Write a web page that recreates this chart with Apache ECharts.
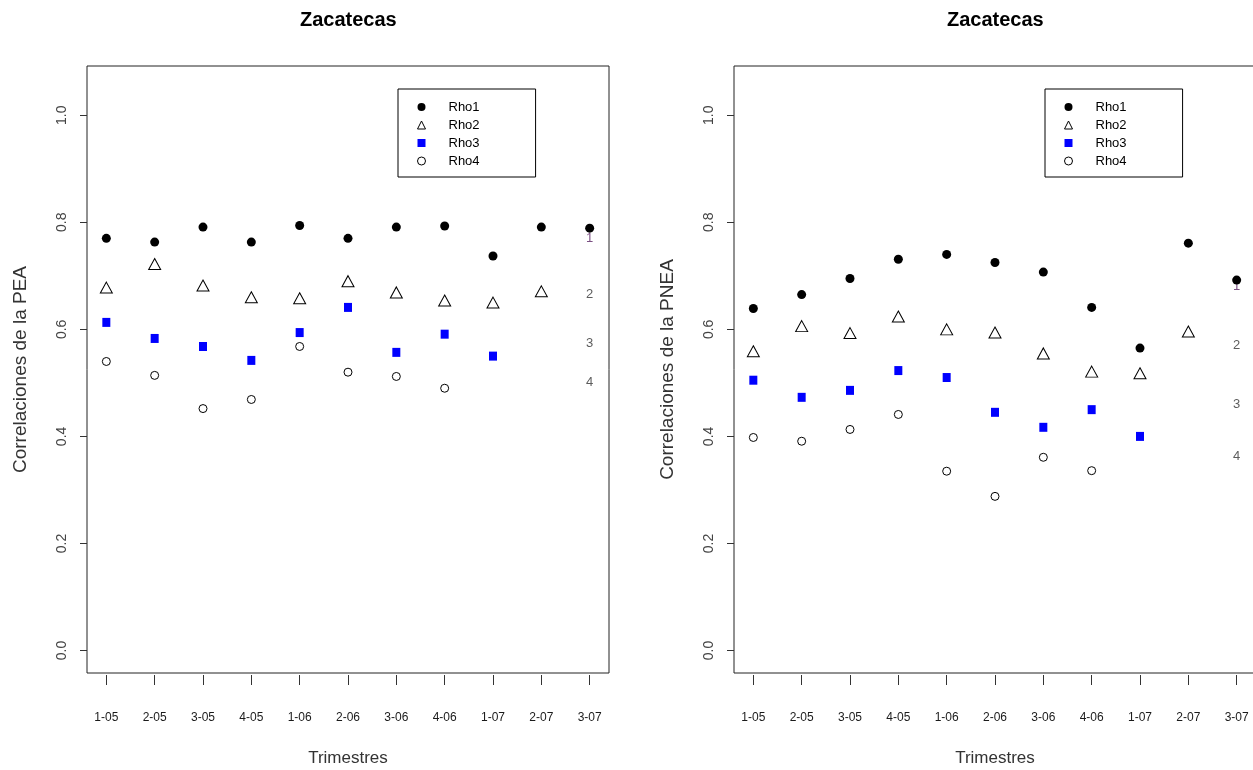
<!DOCTYPE html>
<html>
<head>
<meta charset="utf-8">
<title>Zacatecas</title>
<script src="https://cdn.jsdelivr.net/npm/echarts@6/dist/echarts.min.js"></script>
<style>
  html, body { margin: 0; padding: 0; background: #ffffff; }
  #chart { width: 1253px; height: 770px; }
</style>
</head>
<body>
<div id="chart"></div>
<script>
// Quarters shown on the horizontal axis
const categories = ['1-05', '2-05', '3-05', '4-05', '1-06', '2-06', '3-06', '4-06', '1-07', '2-07', '3-07'];
const seriesNames = ['Rho1', 'Rho2', 'Rho3', 'Rho4'];
const yTicks = [0, 0.2, 0.4, 0.6, 0.8, 1.0];

// Correlations for the PEA (left panel); null where the lag is not available
const peaRho1 = [0.770, 0.763, 0.791, 0.763, 0.794, 0.770, 0.791, 0.793, 0.737, 0.791, 0.789];
const peaRho2 = [0.678, 0.722, 0.682, 0.660, 0.658, 0.690, 0.669, 0.654, 0.650, 0.671, null];
const peaRho3 = [0.613, 0.583, 0.568, 0.542, 0.594, 0.641, 0.557, 0.591, 0.550, null, null];
const peaRho4 = [0.540, 0.514, 0.452, 0.469, 0.568, 0.520, 0.512, 0.490, null, null, null];

// Correlations for the PNEA (right panel)
const pneaRho1 = [0.639, 0.665, 0.695, 0.731, 0.740, 0.725, 0.707, 0.641, 0.565, 0.761, 0.692];
const pneaRho2 = [0.559, 0.606, 0.593, 0.624, 0.600, 0.594, 0.555, 0.521, 0.518, 0.596, null];
const pneaRho3 = [0.505, 0.473, 0.486, 0.523, 0.510, 0.445, 0.417, 0.450, 0.400, null, null];
const pneaRho4 = [0.398, 0.391, 0.413, 0.441, 0.335, 0.288, 0.361, 0.336, null, null, null];

const FONT = "'Liberation Sans', Arial, Helvetica, sans-serif";

const markerStyles = [
  { symbol: 'circle',   symbolSize: 9,        itemStyle: { color: '#000000', opacity: 1 } },
  { symbol: 'triangle', symbolSize: [12, 11], itemStyle: { color: '#ffffff', borderColor: '#000000', borderWidth: 1, opacity: 1 } },
  { symbol: 'rect',     symbolSize: [8, 9],   itemStyle: { color: '#0000ff', opacity: 1 } },
  { symbol: 'circle',   symbolSize: 8,        itemStyle: { color: '#ffffff', borderColor: '#000000', borderWidth: 1, opacity: 1 } }
];
const legendIconStyles = [
  { color: '#000000', borderWidth: 0 },
  { color: '#ffffff', borderColor: '#000000', borderWidth: 1 },
  { color: '#0000ff', borderWidth: 0 },
  { color: '#ffffff', borderColor: '#000000', borderWidth: 1 }
];
const numberColors = ['#5a2464', '#333333', '#333333', '#333333'];

function points(arr) {
  const out = [];
  arr.forEach((v, i) => { if (v !== null) out.push([i + 1, v]); });
  return out;
}
function mean(arr) {
  const vals = arr.filter(v => v !== null);
  return vals.reduce((a, b) => a + b, 0) / vals.length;
}

const panels = [
  { left: 87,  yName: 'Correlaciones de la PEA',  data: [peaRho1, peaRho2, peaRho3, peaRho4],     legendLeft: 398,  titleLeft: 300 },
  { left: 734, yName: 'Correlaciones de la PNEA', data: [pneaRho1, pneaRho2, pneaRho3, pneaRho4], legendLeft: 1045, titleLeft: 947 }
];

const grids = [], xAxes = [], yAxes = [], series = [], legends = [], titles = [];
const xTickValues = categories.map((c, i) => i + 1);

panels.forEach((p, k) => {
  grids.push({
    left: p.left, top: 66, width: 522, height: 607,
    outerBoundsMode: 'none', containLabel: false,
    show: true, borderColor: '#222222', borderWidth: 1, backgroundColor: 'transparent'
  });
  xAxes.push({
    type: 'value', gridIndex: k, min: 0.6, max: 11.4, offset: 2, position: 'bottom',
    axisLine: { show: false, onZero: false }, splitLine: { show: false },
    axisTick: { show: true, inside: false, customValues: xTickValues, length: 10, lineStyle: { color: '#333333' } },
    axisLabel: {
      customValues: xTickValues, margin: 37, fontSize: 12, color: '#1a1a1a', fontFamily: FONT,
      formatter: v => categories[Math.round(v) - 1]
    },
    name: 'Trimestres', nameLocation: 'middle', nameGap: 75,
    nameTextStyle: { fontSize: 17, color: '#333333', fontFamily: FONT }
  });
  yAxes.push({
    type: 'value', gridIndex: k, min: -0.042, max: 1.092, position: 'left',
    axisLine: { show: false, onZero: false }, splitLine: { show: false },
    axisTick: { show: true, inside: false, customValues: yTicks, length: 7, lineStyle: { color: '#333333' } },
    axisLabel: {
      customValues: yTicks, rotate: 90, margin: 18, fontSize: 14, color: '#444444', fontFamily: FONT,
      formatter: v => v.toFixed(1)
    },
    name: p.yName, nameLocation: 'middle', nameGap: 57,
    nameTextStyle: { fontSize: 19, color: '#333333', fontFamily: FONT }
  });

  // Series index numbers placed at each series' mean, in the last column
  series.push({
    type: 'scatter', name: 'idx' + k, xAxisIndex: k, yAxisIndex: k, z: 1,
    symbol: 'circle', symbolSize: 1, itemStyle: { color: 'rgba(0,0,0,0)' },
    silent: true,
    data: p.data.map((arr, j) => ({
      value: [categories.length, mean(arr)],
      name: String(j + 1),
      label: { color: numberColors[j] }
    })),
    label: { show: true, position: 'inside', offset: [0, 4], formatter: d => d.name, fontSize: 13, fontFamily: FONT }
  });

  p.data.forEach((arr, j) => {
    series.push(Object.assign({
      type: 'scatter', name: seriesNames[j], xAxisIndex: k, yAxisIndex: k, z: 2,
      data: points(arr)
    }, markerStyles[j]));
  });

  legends.push({
    left: p.legendLeft, top: 89, orient: 'vertical',
    data: seriesNames.map((n, j) => ({ name: n, icon: markerStyles[j].symbol, itemStyle: legendIconStyles[j] })),
    itemWidth: 8, itemHeight: 8, itemGap: 4,
    padding: [11, 56, 9, 19],
    borderColor: '#000000', borderWidth: 1, backgroundColor: '#ffffff',
    selectedMode: false,
    formatter: n => '{t|' + n + '}',
    textStyle: {
      fontSize: 13, color: '#000000', fontFamily: FONT, lineHeight: 14,
      rich: { t: { fontSize: 13, lineHeight: 14, padding: [0, 0, 0, 18], fontFamily: FONT, color: '#000000' } }
    }
  });

  titles.push({
    text: 'Zacatecas', left: p.titleLeft, top: 10, padding: 0,
    textStyle: { fontSize: 20, fontWeight: 'bold', color: '#000000', fontFamily: FONT }
  });
});

const chart = echarts.init(document.getElementById('chart'), null, { renderer: 'canvas' });
chart.setOption({
  backgroundColor: '#ffffff',
  animation: false,
  title: titles,
  legend: legends,
  grid: grids,
  xAxis: xAxes,
  yAxis: yAxes,
  series: series
});
</script>
</body>
</html>
